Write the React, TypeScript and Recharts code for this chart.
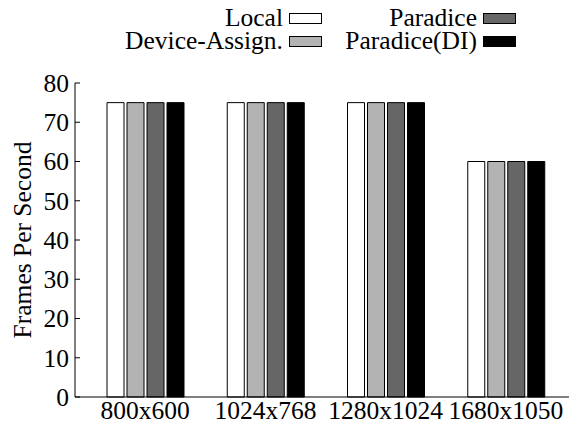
import { BarChart, Bar, XAxis, YAxis } from "recharts";

const resolutions = ["800x600", "1024x768", "1280x1024", "1680x1050"];
const local = [75, 75, 75, 60];
const deviceAssign = [75, 75, 75, 60];
const paradice = [75, 75, 75, 60];
const paradiceDI = [75, 75, 75, 60];
const yTicks = [0, 10, 20, 30, 40, 50, 60, 70, 80];

const series = [
  { key: "local", name: "Local", fill: "#ffffff" },
  { key: "deviceAssign", name: "Device-Assign.", fill: "#b3b3b3" },
  { key: "paradice", name: "Paradice", fill: "#666666" },
  { key: "paradiceDI", name: "Paradice(DI)", fill: "#000000" },
];

const data = resolutions.map((r, i) => ({
  res: r,
  local: local[i],
  deviceAssign: deviceAssign[i],
  paradice: paradice[i],
  paradiceDI: paradiceDI[i],
}));

const FONT = "Liberation Serif";
const FS = 25.5;

// y tick: label on the left, short tick pointing into the plot
function YTick(props: any) {
  const { x, y, payload } = props;
  return (
    <g>
      <text
        x={x}
        y={y}
        dy="0.35em"
        textAnchor="end"
        style={{ fontFamily: FONT, fontSize: FS }}
        fill="#000"
      >
        {payload.value}
      </text>
      <line x1={x + 6} x2={x + 11} y1={y} y2={y} stroke="#000" />
    </g>
  );
}

// two-column key, labels right-aligned before their swatch
function KeyBox() {
  const cols = [
    [series[0], series[1]],
    [series[2], series[3]],
  ];
  const colRight = [322, 516];
  return (
    <div style={{ position: "absolute", left: 0, top: 0, width: 571, height: 60 }}>
      {cols.map((col, ci) =>
        col.map((s, ri) => (
          <div
            key={s.key}
            style={{
              position: "absolute",
              right: 571 - colRight[ci],
              top: 7 + ri * 23,
              display: "flex",
              alignItems: "center",
              fontFamily: FONT,
              fontSize: FS,
              lineHeight: "22px",
              height: 22,
              color: "#000",
              whiteSpace: "nowrap",
            }}
          >
            <span>{s.name}</span>
            <span
              style={{
                display: "inline-block",
                width: 31,
                height: 9,
                marginLeft: 6,
                background: s.fill,
                border: "1px solid #000",
              }}
            />
          </div>
        ))
      )}
    </div>
  );
}

export default function App() {
  return (
    <div style={{ position: "absolute", left: 0, top: 0, width: 571, height: 428, background: "#fff" }}>
      <BarChart
        width={571}
        height={428}
        data={data}
        margin={{ top: 83, right: 2, bottom: 0, left: 0 }}
        barSize={17}
        barGap={3}
      >
        <XAxis
          dataKey="res"
          padding={{ left: 10, right: 3 }}
          axisLine={{ stroke: "#000", strokeWidth: 1 }}
          tickLine={false}
          tickSize={0}
          tickMargin={4}
          height={31}
          tick={{ fontFamily: FONT, fontSize: FS, fill: "#000" }}
          interval={0}
        />
        <YAxis
          domain={[0, 80]}
          ticks={yTicks}
          width={75}
          tickSize={0}
          tickMargin={6}
          axisLine={{ stroke: "#000", strokeWidth: 1 }}
          tick={<YTick />}
          label={{
            value: "Frames Per Second",
            angle: -90,
            position: "insideLeft",
            offset: 22,
            style: { fontFamily: FONT, fontSize: FS, fill: "#000", textAnchor: "middle" },
          }}
        />
        {series.map((s) => (
          <Bar
            key={s.key}
            dataKey={s.key}
            name={s.name}
            fill={s.fill}
            stroke="#000"
            strokeWidth={1}
            isAnimationActive={false}
          />
        ))}
      </BarChart>
      <KeyBox />
    </div>
  );
}
